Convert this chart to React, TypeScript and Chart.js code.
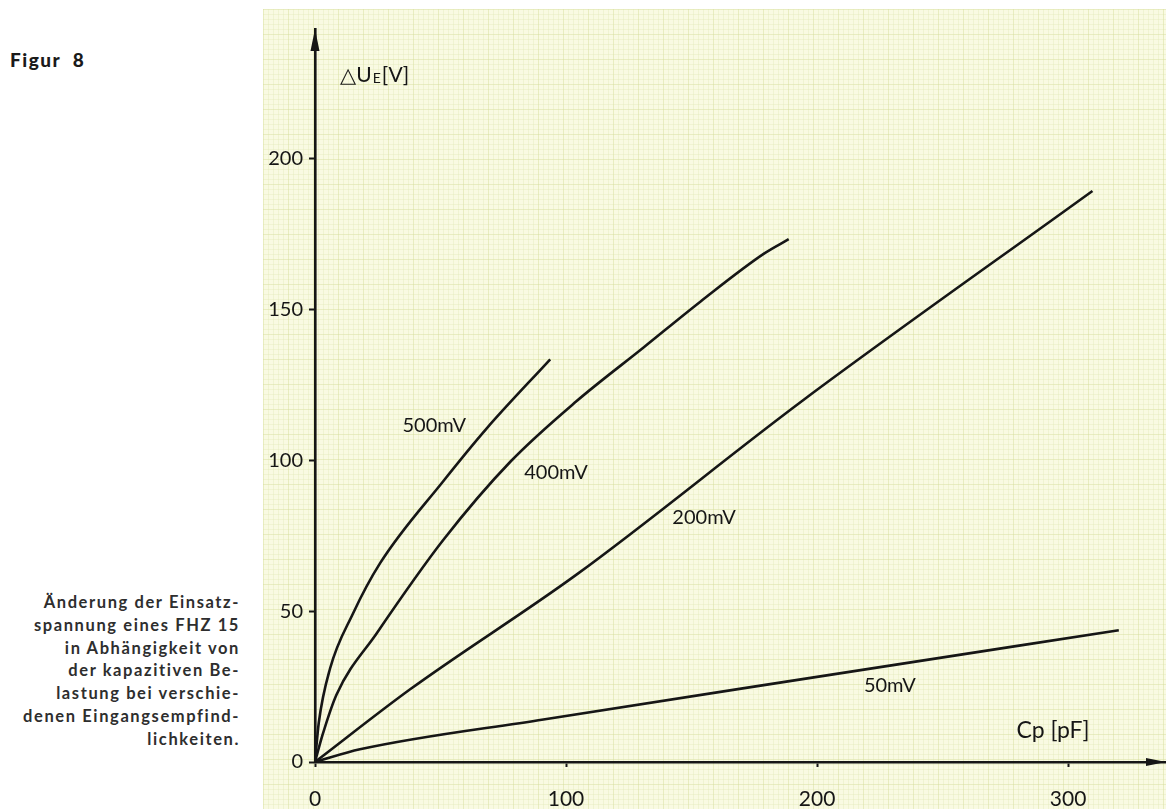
import React, { useEffect, useRef } from "react";
import { Chart, registerables } from "chart.js";

Chart.register(...registerables);

// ---- Data ----
const cp500 = [0, 1.5, 6, 15, 26, 51, 68.5, 93.7];
const u500 = [0, 13, 31, 49, 66, 93, 110.7, 133.5];

const cp400 = [0, 3, 8.6, 24.6, 51, 78, 104, 131, 153.5, 179, 188.7];
const u400 = [0, 9, 22.4, 42.7, 73.5, 99.7, 119.5, 137.5, 152.6, 168.6, 173.3];

const cp200 = [0, 37.9, 104.3, 194.7, 309.7];
const u200 = [0, 24.1, 62.2, 120.1, 189.3];

const cp50 = [0, 17.9, 91, 197.4, 320.2];
const u50 = [0, 4.2, 14.1, 27.9, 43.7];

const xTickValues = [0, 100, 200, 300];
const yTickValues = [0, 50, 100, 150, 200];

const seriesNames = ["500mV", "400mV", "200mV", "50mV"];
// label anchor (data units, text centre)
const labelCp = [47.5, 96, 155, 229];
const labelU = [111.6, 96, 81, 25.3];

const xAxisTitle = "Cp [pF]";
const yAxisTitleMain = "\u25B3U";
const yAxisTitleSub = "E";
const yAxisTitleUnit = "[V]";

const captionLines = [
  "Änderung der Einsatz-",
  "spannung eines FHZ 15",
  "in Abhängigkeit von",
  "der kapazitiven Be-",
  "lastung bei verschie-",
  "denen Eingangsempfind-",
  "lichkeiten.",
];

const INK = "#161616";
const FONT = "Lato, 'DejaVu Sans', sans-serif";

const toPts = (xs: number[], ys: number[]) => xs.map((x, i) => ({ x, y: ys[i] }));

const decorPlugin = {
  id: "decor",
  afterDraw(chart: any) {
    const { ctx, chartArea, scales } = chart;
    const sx = scales.x;
    const sy = scales.y;
    ctx.save();
    ctx.fillStyle = INK;
    // arrow on y axis
    const lx = chartArea.left;
    const ty = chartArea.top;
    ctx.beginPath();
    ctx.moveTo(lx, ty);
    ctx.lineTo(lx - 4.5, ty + 22);
    ctx.lineTo(lx + 4.5, ty + 22);
    ctx.closePath();
    ctx.fill();
    // arrow on x axis
    const rx = chartArea.right;
    const by = chartArea.bottom;
    ctx.beginPath();
    ctx.moveTo(rx, by);
    ctx.lineTo(rx - 20, by - 4);
    ctx.lineTo(rx - 20, by + 4);
    ctx.closePath();
    ctx.fill();

    // curve labels
    ctx.textAlign = "center";
    ctx.textBaseline = "middle";
    ctx.font = `20px ${FONT}`;
    seriesNames.forEach((name, i) => {
      ctx.fillText(name, sx.getPixelForValue(labelCp[i]), sy.getPixelForValue(labelU[i]));
    });

    // x axis title
    ctx.font = `23px ${FONT}`;
    ctx.fillText(xAxisTitle, sx.getPixelForValue(294), sy.getPixelForValue(10.3));

    // y axis title with subscript
    ctx.textAlign = "left";
    let px = sx.getPixelForValue(10);
    const py = sy.getPixelForValue(227.8);
    ctx.font = `21px ${FONT}`;
    ctx.fillText(yAxisTitleMain, px, py);
    px += ctx.measureText(yAxisTitleMain).width + 1;
    ctx.font = `14px ${FONT}`;
    ctx.fillText(yAxisTitleSub, px, py + 4);
    px += ctx.measureText(yAxisTitleSub).width + 1;
    ctx.font = `21px ${FONT}`;
    ctx.fillText(yAxisTitleUnit, px, py);
    ctx.restore();
  },
};

export default function App() {
  const ref = useRef<HTMLCanvasElement | null>(null);

  useEffect(() => {
    if (!ref.current) return;
    const mk = (xs: number[], ys: number[]) => ({
      data: toPts(xs, ys),
      borderColor: INK,
      borderWidth: 2.6,
      pointRadius: 0,
      tension: 0.4,
      cubicInterpolationMode: "monotone" as const,
      fill: false,
    });
    const chart = new Chart(ref.current, {
      type: "line",
      data: {
        datasets: [mk(cp500, u500), mk(cp400, u400), mk(cp200, u200), mk(cp50, u50)],
      },
      options: {
        animation: false,
        responsive: false,
        layout: { padding: { left: 0, top: 29, right: 0, bottom: 0 }, autoPadding: false },
        plugins: { legend: { display: false }, tooltip: { enabled: false }, title: { display: false } },
        scales: {
          x: {
            type: "linear",
            min: 0,
            max: 339,
            afterBuildTicks: (s: any) => {
              s.ticks = xTickValues.map((v) => ({ value: v }));
            },
            afterFit: (s: any) => {
              s.height = 47;
            },
            grid: { drawOnChartArea: false, drawTicks: true, tickLength: 5, tickColor: INK, tickWidth: 2 },
            border: { display: true, color: INK, width: 2.6 },
            ticks: {
              color: INK,
              font: { family: FONT, size: 21 },
              padding: 20,
              maxRotation: 0,
              autoSkip: false,
            },
          },
          y: {
            type: "linear",
            min: 0,
            max: 243,
            afterBuildTicks: (s: any) => {
              s.ticks = yTickValues.map((v) => ({ value: v }));
            },
            afterFit: (s: any) => {
              s.width = 315;
            },
            grid: { drawOnChartArea: false, drawTicks: true, tickLength: 6, tickColor: INK, tickWidth: 2 },
            border: { display: true, color: INK, width: 2.6 },
            ticks: {
              color: INK,
              font: { family: FONT, size: 20 },
              padding: 6,
              autoSkip: false,
            },
          },
        },
      },
      plugins: [decorPlugin],
    });
    return () => chart.destroy();
  }, []);

  const paper: React.CSSProperties = {
    position: "absolute",
    left: 263,
    top: 9,
    width: 1166 - 263,
    height: 809 - 9,
    backgroundColor: "#f9fae2",
    backgroundImage:
      "linear-gradient(to right, rgba(212,220,150,0.30) 1px, transparent 1px)," +
      "linear-gradient(to bottom, rgba(212,220,150,0.30) 1px, transparent 1px)," +
      "linear-gradient(to right, rgba(228,234,185,0.40) 1px, transparent 1px)," +
      "linear-gradient(to bottom, rgba(228,234,185,0.40) 1px, transparent 1px)",
    backgroundSize: "25px 25px, 25px 25px, 5px 5px, 5px 5px",
  };

  return (
    <div
      style={{
        position: "absolute",
        left: 0,
        top: 0,
        width: 1166,
        height: 809,
        background: "#ffffff",
        overflow: "hidden",
      }}
    >
      <div style={paper} />
      <div
        style={{
          position: "absolute",
          left: 10,
          top: 48,
          fontFamily: FONT,
          fontWeight: 900,
          fontSize: 19,
          letterSpacing: 1.5,
          color: "#1a1a1a",
          lineHeight: "24px",
          whiteSpace: "pre",
        }}
      >
        {"Figur  8"}
      </div>
      <div
        style={{
          position: "absolute",
          left: 0,
          top: 591,
          width: 240,
          textAlign: "right",
          fontFamily: FONT,
          fontWeight: 700,
          fontSize: 16.5,
          letterSpacing: 1.6,
          lineHeight: "22.8px",
          color: "#2e2e2e",
          whiteSpace: "nowrap",
        }}
      >
        {captionLines.map((l, i) => (
          <div key={i}>{l}</div>
        ))}
      </div>
      <canvas
        ref={ref}
        width={1166}
        height={809}
        style={{ position: "absolute", left: 0, top: 0, width: 1166, height: 809 }}
      />
    </div>
  );
}
